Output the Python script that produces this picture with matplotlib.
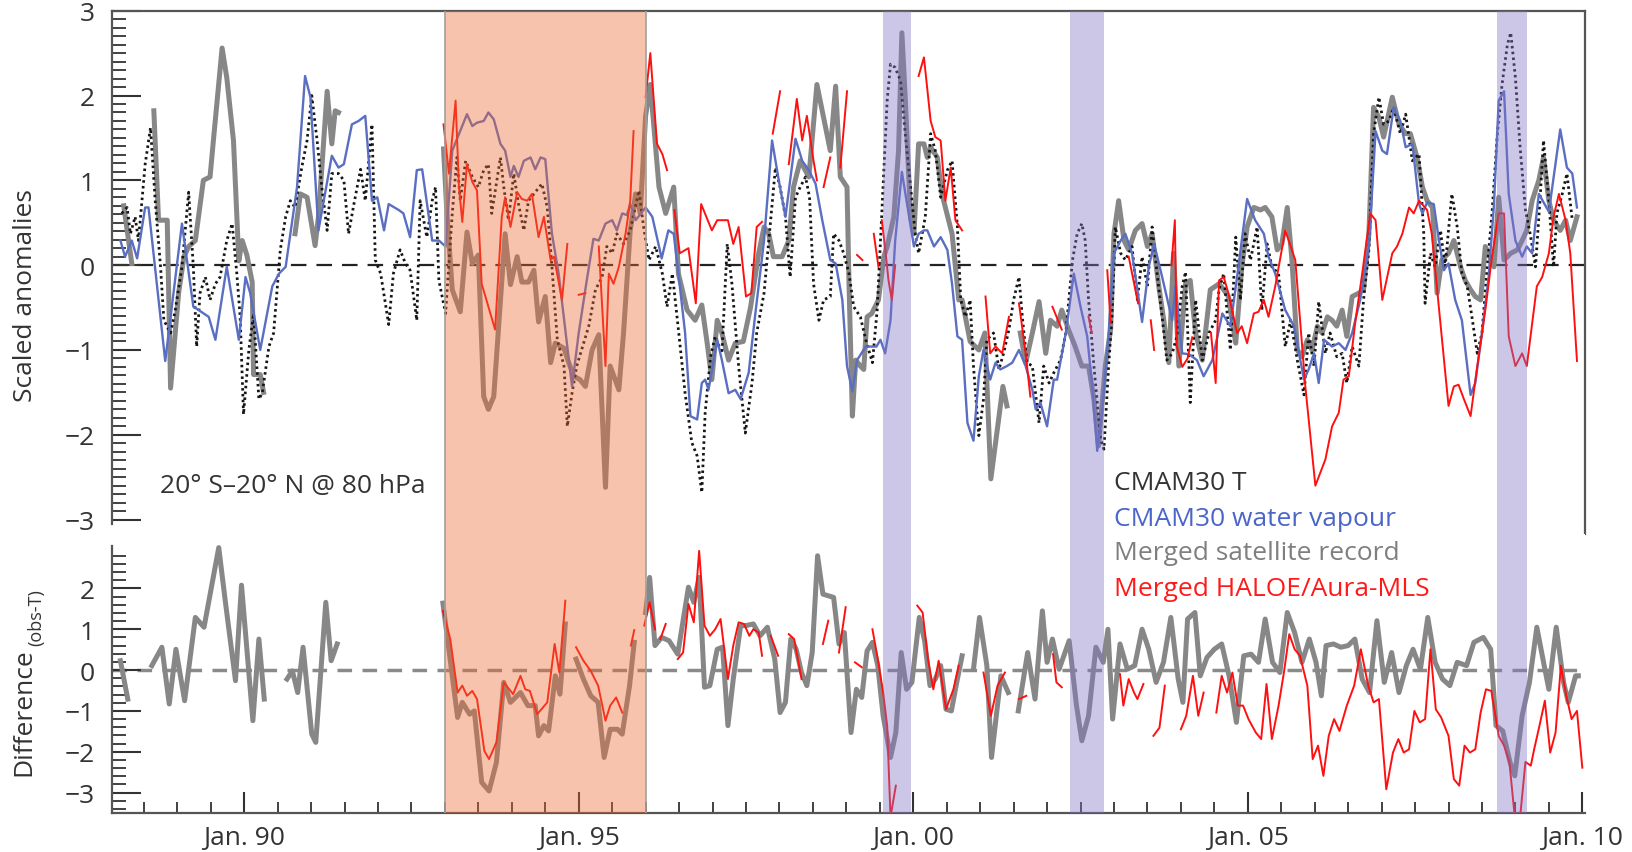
import numpy as np
import matplotlib
matplotlib.use("Agg")
import matplotlib.pyplot as plt
from matplotlib.ticker import FixedLocator

plt.rcParams['font.family'] = ['Open Sans', 'DejaVu Sans']
nan = np.nan

# ---------------- data (year, value) ----------------
cmam_t = [
(1988.17,0.61),(1988.25,0.68),(1988.30,0.37),(1988.37,0.57),(1988.42,0.29),(1988.52,1.19),(1988.60,1.62),
(1988.67,0.76),(1988.75,-0.02),(1988.80,-0.65),(1988.90,-0.80),(1988.97,-0.53),(1989.07,-0.02),(1989.17,0.86),
(1989.24,-0.02),(1989.29,-0.96),(1989.34,-0.33),(1989.42,-0.14),(1989.49,-0.41),(1989.57,-0.22),(1989.64,-0.14),
(1989.74,0.29),(1989.82,0.49),(1989.89,-0.10),(1989.94,-0.61),(1989.99,-1.76),(1990.07,-1.00),(1990.14,-0.57),
(1990.22,-1.58),(1990.27,-1.51),(1990.37,-0.96),(1990.44,-0.80),(1990.54,0.18),(1990.62,0.57),(1990.69,0.76),
(1990.76,0.68),(1990.86,1.15),(1990.94,1.47),(1991.01,2.00),(1991.09,1.47),(1991.16,0.92),(1991.24,0.41),
(1991.31,1.08),(1991.41,1.08),(1991.49,1.00),(1991.56,0.37),(1991.64,0.72),(1991.74,1.13),(1991.81,0.76),
(1991.91,1.66),(1991.96,0.06),(1992.04,-0.10),(1992.16,-0.70),(1992.23,-0.10),(1992.33,0.18),(1992.41,0.02),
(1992.48,-0.06),(1992.58,-0.65),(1992.63,0.76),(1992.73,0.33),(1992.81,0.76),(1992.86,0.92),(1992.91,-0.18),
(1993.01,-0.57),(1993.11,0.61),(1993.18,1.27),(1993.23,0.76),(1993.31,1.23),(1993.41,1.04),(1993.50,0.92),
(1993.58,1.12),(1993.65,1.19),(1993.70,0.61),(1993.83,1.27),(1993.88,0.92),(1993.95,0.53),(1994.03,1.08),
(1994.10,0.72),(1994.18,0.41),(1994.25,0.76),(1994.35,0.86),(1994.45,0.96),(1994.53,0.68),(1994.60,-0.02),
(1994.68,-0.88),(1994.78,-1.19),(1994.83,-1.90),(1994.90,-1.51),(1994.97,-1.19),(1995.15,-0.72),(1995.25,-0.29),
(1995.35,-0.14),(1995.42,0.22),(1995.50,0.14),(1995.57,0.37),(1995.67,0.25),(1995.77,0.41),(1995.90,0.88),
(1995.97,0.45),(1996.05,0.06),(1996.15,0.22),(1996.25,-0.10),(1996.32,-0.49),(1996.40,-0.10),(1996.49,-0.76),
(1996.59,-1.51),(1996.69,-2.09),(1996.77,-2.25),(1996.84,-2.68),(1996.89,-1.74),(1996.97,-1.08),(1997.04,-0.84),
(1997.14,-1.04),(1997.22,0.25),(1997.29,-0.22),(1997.39,-1.19),(1997.49,-1.98),(1997.59,-1.39),(1997.66,-0.80),
(1997.77,-0.33),(1997.86,0.45),(1997.94,1.15),(1998.01,0.92),(1998.09,0.57),(1998.16,-0.14),(1998.24,0.80),
(1998.31,0.92),(1998.39,1.04),(1998.45,0.80),(1998.51,-0.22),(1998.59,-0.65),(1998.66,-0.41),(1998.76,-0.37),
(1998.81,0.37),(1998.89,0.29),(1998.96,0.14),(1999.04,-0.10),(1999.11,-0.49),(1999.21,-0.61),(1999.29,-0.88),
(1999.39,-1.15),(1999.46,-0.53),(1999.53,0.61),(1999.61,1.94),(1999.66,2.37),(1999.73,2.33),(1999.81,2.17),
(1999.88,1.55),(1999.96,0.92),(2000.03,0.37),(2000.08,0.14),(2000.18,0.57),(2000.26,1.55),(2000.33,1.35),
(2000.41,0.80),(2000.51,1.12),(2000.58,1.23),(2000.66,0.45),(2000.71,-0.41),(2000.78,-0.61),(2000.85,-0.41),
(2000.90,-1.19),(2000.98,-2.01),(2001.05,-1.58),(2001.10,-0.88),(2001.20,-0.80),(2001.28,-1.23),(2001.35,-1.04),
(2001.43,-0.76),(2001.50,-0.41),(2001.58,-0.14),(2001.63,-0.61),(2001.70,-1.15),(2001.78,-1.19),(2001.88,-1.86),
(2001.95,-1.19),(2002.03,-1.39),(2002.10,-1.27),(2002.20,-1.12),(2002.28,-0.80),(2002.38,0.06),(2002.45,0.37),
(2002.52,0.49),(2002.57,0.29),(2002.62,-0.41),(2002.70,-1.19),(2002.80,-2.05),(2002.85,-2.17),(2002.92,-1.19),
(2002.97,-0.61),(2003.02,0.45),(2003.10,0.14),(2003.17,0.06),(2003.27,0.22),(2003.35,-0.41),(2003.42,0.10),
(2003.50,-0.25),(2003.57,0.45),(2003.65,-0.14),(2003.72,-0.61),(2003.79,-1.12),(2003.87,-1.04),(2003.94,-0.84),
(2004.02,-0.25),(2004.07,-0.08),(2004.14,-1.62),(2004.22,-0.41),(2004.32,-1.12),(2004.42,-0.80),(2004.52,-0.65),
(2004.57,-0.29),(2004.64,-0.10),(2004.74,-1.00),(2004.82,0.33),(2004.89,-0.41),(2004.96,0.37),(2005.04,0.06),
(2005.14,0.45),(2005.21,-0.53),(2005.29,0.25),(2005.36,-0.02),(2005.46,-0.10),(2005.56,-0.96),(2005.64,-0.65),
(2005.74,-1.12),(2005.84,-1.53),(2005.91,-0.80),(2005.99,-1.19),(2006.06,-0.43),(2006.16,-1.04),(2006.23,-0.80),
(2006.33,-1.08),(2006.41,-1.04),(2006.48,-1.39),(2006.56,-0.96),(2006.66,-1.19),(2006.73,-0.41),(2006.81,0.18),
(2006.88,1.55),(2006.96,1.98),(2007.03,1.66),(2007.11,1.70),(2007.18,1.86),(2007.28,1.55),(2007.36,1.78),
(2007.46,1.23),(2007.56,1.31),(2007.63,0.37),(2007.65,-0.45),(2007.73,0.14),(2007.80,-0.02),(2007.88,0.41),
(2007.95,-0.02),(2008.05,0.84),(2008.13,0.45),(2008.20,-0.10),(2008.28,-0.25),(2008.35,-0.61),(2008.43,-1.04),
(2008.50,-0.80),(2008.58,-0.02),(2008.65,0.61),(2008.73,1.55),(2008.80,2.13),(2008.88,2.60),(2008.93,2.74),
(2009.00,2.21),(2009.07,1.39),(2009.15,0.65),(2009.22,0.37),(2009.30,-0.02),(2009.37,0.80),(2009.42,1.47),
(2009.50,0.76),(2009.57,-0.02),(2009.62,0.61),(2009.70,0.84),(2009.77,1.08),(2009.85,0.53)]

cmam_wv = [
(1988.15,0.29),(1988.22,0.10),(1988.32,0.29),(1988.40,0.08),(1988.52,0.68),(1988.57,0.68),(1988.82,-1.13),
(1989.07,0.49),(1989.24,-0.49),(1989.32,-0.53),(1989.47,-0.61),(1989.57,-0.88),(1989.74,-0.02),(1989.92,-0.88),
(1990.02,-0.14),(1990.09,-0.33),(1990.24,-1.00),(1990.42,-0.25),(1990.52,-0.10),(1990.62,-0.02),(1990.79,0.92),
(1990.91,2.23),(1990.99,1.98),(1991.11,0.41),(1991.31,1.29),(1991.41,1.15),(1991.49,1.19),(1991.61,1.66),
(1991.71,1.70),(1991.81,1.76),(1991.91,0.76),(1991.99,0.80),(1992.09,0.41),(1992.16,0.72),(1992.31,0.65),
(1992.38,0.61),(1992.48,0.33),(1992.58,1.12),(1992.66,1.13),(1992.81,0.29),(1992.91,0.29),(1993.01,0.22),
(1993.11,1.35),(1993.33,1.78),(1993.41,1.64),(1993.48,1.68),(1993.58,1.70),(1993.65,1.80),(1993.73,1.72),
(1993.83,1.43),(1993.90,1.35),(1993.98,1.04),(1994.03,1.17),(1994.10,1.04),(1994.18,1.23),(1994.28,1.27),
(1994.35,1.13),(1994.43,1.27),(1994.50,1.25),(1994.60,0.37),(1994.70,-0.10),(1994.80,-0.76),(1994.90,-1.43),
(1995.00,-0.80),(1995.12,-0.18),(1995.22,0.31),(1995.30,0.29),(1995.40,0.49),(1995.50,0.53),(1995.57,0.41),
(1995.65,0.61),(1995.72,0.59),(1995.77,0.72),(1995.85,0.53),(1996.00,0.68),(1996.10,0.57),(1996.24,0.08),
(1996.34,0.41),(1996.42,0.37),(1996.49,-0.10),(1996.59,-0.80),(1996.67,-1.78),(1996.77,-1.82),(1996.84,-1.39),
(1996.89,-1.35),(1996.94,-1.47),(1997.07,-0.88),(1997.14,-1.12),(1997.24,-1.51),(1997.34,-1.47),(1997.42,-1.58),
(1997.54,-1.27),(1997.64,-0.57),(1997.77,0.29),(1997.89,1.47),(1997.99,1.00),(1998.09,0.57),(1998.24,1.49),
(1998.34,1.23),(1998.44,1.12),(1998.54,0.96),(1998.64,0.53),(1998.76,0.06),(1998.84,0.02),(1998.94,-0.41),
(1999.01,-1.19),(1999.09,-1.49),(1999.16,-1.12),(1999.29,-0.96),(1999.45,-0.96),(1999.51,-0.88),(1999.58,-1.04),
(1999.66,-0.65),(1999.73,0.29),(1999.83,1.10),(1999.93,0.61),(2000.01,0.22),(2000.08,0.37),(2000.16,0.41),
(2000.21,0.41),(2000.31,0.22),(2000.41,0.33),(2000.51,0.18),(2000.58,-0.22),(2000.66,-0.84),(2000.73,-0.88),
(2000.81,-1.86),(2000.90,-2.07),(2000.98,-1.31),(2001.05,-1.00),(2001.15,-1.35),(2001.23,-1.15),(2001.30,-1.23),
(2001.40,-1.19),(2001.48,-1.15),(2001.58,-1.00),(2001.68,-1.19),(2001.78,-1.47),(2001.83,-1.70),(2001.90,-1.62),
(2002.00,-1.90),(2002.10,-1.35),(2002.15,-1.35),(2002.28,-0.80),(2002.40,-0.10),(2002.50,-0.49),(2002.60,-0.84),
(2002.67,-1.39),(2002.75,-2.19),(2002.82,-1.74),(2002.92,-0.80),(2003.00,0.14),(2003.10,0.29),(2003.17,0.37),
(2003.27,0.14),(2003.42,-0.67),(2003.52,-0.02),(2003.60,0.25),(2003.72,-0.14),(2003.80,-0.41),(2003.87,-0.65),
(2003.92,-0.25),(2004.02,-1.04),(2004.12,-1.05),(2004.24,-1.12),(2004.34,-1.31),(2004.47,-1.12),(2004.62,-0.57),
(2004.74,-0.72),(2004.84,-0.14),(2004.99,0.78),(2005.11,0.53),(2005.24,0.37),(2005.31,0.10),(2005.41,-0.10),
(2005.56,-0.53),(2005.69,-0.72),(2005.84,-1.35),(2005.91,-1.23),(2005.99,-1.04),(2006.06,-1.39),(2006.14,-0.88),
(2006.26,-0.96),(2006.36,-0.92),(2006.46,-1.00),(2006.56,-0.80),(2006.68,-0.41),(2006.81,0.22),(2006.91,1.58),
(2007.01,1.35),(2007.08,1.31),(2007.18,1.86),(2007.28,1.70),(2007.36,1.39),(2007.46,1.43),(2007.56,0.72),
(2007.61,0.61),(2007.68,0.74),(2007.78,0.72),(2007.85,0.33),(2007.93,-0.06),(2008.00,0.02),(2008.10,-0.41),
(2008.20,-0.65),(2008.33,-1.53),(2008.40,-1.39),(2008.50,-0.80),(2008.60,-0.14),(2008.68,0.72),(2008.75,1.94),
(2008.83,2.05),(2008.90,0.84),(2009.00,0.29),(2009.10,0.10),(2009.17,0.22),(2009.25,0.14),(2009.35,0.84),
(2009.50,0.63),(2009.67,1.60),(2009.77,1.15),(2009.85,1.08),(2009.92,0.68)]

merged_sat = [
(1988.20,0.70),(1988.32,0.02),(nan,nan),
(1988.65,1.82),(1988.72,0.53),(1988.85,0.53),(1988.90,-1.45),(1989.02,-0.33),(1989.10,0.10),(1989.17,0.22),
(1989.27,0.29),(1989.39,1.00),(1989.49,1.04),(1989.54,1.47),(1989.67,2.56),(1989.74,2.21),(1989.84,1.47),
(1989.92,0.05),(1989.97,0.29),(1990.04,0.12),(1990.12,-0.20),(1990.14,-1.29),(1990.24,-1.29),(1990.29,-1.50),(nan,nan),
(1990.76,0.37),(1990.84,0.84),(1990.94,0.80),(1991.06,0.23),(1991.11,0.57),(1991.24,2.05),(1991.31,1.43),
(1991.36,1.82),(1991.41,1.80),(nan,nan),
(1992.98,1.37),(1993.03,0.61),(1993.11,-0.29),(1993.23,-0.55),(1993.33,0.39),(1993.41,0.02),(1993.50,0.12),
(1993.58,-1.55),(1993.65,-1.70),(1993.73,-1.55),(1993.83,-0.41),(1993.90,0.37),(1993.98,-0.23),(1994.08,0.10),
(1994.15,-0.20),(1994.25,-0.20),(1994.33,-0.06),(1994.40,-0.67),(1994.50,-0.37),(1994.58,-1.15),(1994.65,-0.92),
(1994.78,-0.98),(1994.85,-1.15),(1994.93,-1.31),(1995.02,-1.35),(1995.10,-1.43),(1995.20,-1.00),(1995.30,-0.82),
(1995.40,-2.62),(1995.47,-1.19),(1995.60,-1.47),(1995.67,-0.80),(1995.77,0.41),(1995.85,0.84),(1995.92,0.61),
(1996.00,1.76),(1996.07,2.13),(1996.15,1.39),(1996.20,0.92),(1996.30,0.61),(1996.42,0.92),(1996.49,-0.10),
(1996.62,-0.53),(1996.74,-0.65),(1996.84,-0.47),(1996.92,-0.92),(1996.99,-1.35),(1997.07,-0.65),(1997.14,-0.80),
(1997.24,-1.12),(1997.34,-0.92),(1997.46,-0.90),(1997.57,-0.49),(1997.69,0.14),(1997.77,0.45),(1997.84,0.37),
(1997.91,0.10),(1998.04,0.10),(1998.14,0.29),(1998.21,0.92),(1998.31,1.23),(1998.44,1.04),(1998.56,2.13),
(1998.66,1.74),(1998.76,1.35),(1998.84,2.11),(1998.91,1.04),(1999.01,0.92),(1999.04,-0.22),(1999.09,-1.78),
(1999.14,-1.12),(1999.21,-1.19),(1999.26,-1.23),(1999.31,-0.61),(1999.38,-0.57),(1999.48,-0.41),(1999.56,0.10),
(1999.61,0.22),(1999.71,0.57),(1999.78,1.35),(1999.83,2.74),(1999.88,1.98),(1999.96,0.57),(2000.01,0.37),
(2000.08,1.43),(2000.16,1.43),(2000.21,1.27),(2000.26,1.39),(2000.36,1.27),(2000.43,0.84),(2000.48,0.68),
(2000.58,0.37),(2000.68,-0.41),(2000.73,-0.41),(2000.85,-0.90),(2000.98,-1.00),(2001.07,-0.80),(2001.16,-2.52),
(2001.34,-1.43),(2001.40,-1.66),(nan,nan),
(2001.60,-0.80),(2001.68,-1.15),(2001.78,-0.80),(2001.88,-0.43),(2001.98,-1.04),(2002.05,-0.65),(2002.15,-0.72),
(2002.22,-0.53),(2002.32,-0.76),(2002.42,-0.96),(2002.52,-1.19),(2002.62,-1.19),(2002.70,-1.58),(2002.77,-2.13),
(2002.87,-1.19),(2002.95,-0.76),(2003.00,0.37),(2003.07,0.76),(2003.15,0.29),(2003.22,0.18),(2003.32,0.41),
(2003.42,0.49),(2003.50,0.22),(2003.57,0.37),(2003.67,-0.25),(2003.75,-0.68),(2003.82,-1.15),(2003.89,0.14),
(2003.97,-1.19),(2004.07,-0.22),(2004.14,-0.18),(2004.22,-0.80),(2004.32,-1.12),(2004.44,-0.29),(2004.57,-0.22),
(2004.64,-0.29),(2004.71,-0.37),(2004.82,-0.92),(2004.91,-0.02),(2004.99,0.45),(2005.09,0.68),(2005.19,0.65),
(2005.26,0.68),(2005.36,0.57),(2005.44,0.18),(2005.51,0.25),(2005.59,0.68),(2005.66,0.06),(2005.74,-1.00),
(2005.81,-1.08),(2005.89,-0.88),(2005.96,-1.00),(2006.04,-0.72),(2006.11,-0.80),(2006.19,-0.61),(2006.26,-0.65),
(2006.33,-0.72),(2006.41,-0.53),(2006.48,-0.84),(2006.56,-0.37),(2006.66,-0.33),(2006.73,-0.29),(2006.81,0.37),
(2006.88,1.86),(2006.96,1.74),(2007.03,1.51),(2007.16,1.98),(2007.26,1.66),(2007.36,1.55),(2007.43,1.55),
(2007.53,1.27),(2007.61,0.92),(2007.68,0.76),(2007.76,0.68),(2007.83,-0.33),(2007.90,0.06),(2008.00,0.14),
(2008.08,0.29),(2008.18,-0.02),(2008.25,-0.18),(2008.33,-0.29),(2008.40,-0.37),(2008.48,-0.41),(2008.55,0.22),
(2008.68,-0.02),(2008.75,0.80),(2008.83,0.06),(2008.93,0.14),(2009.03,0.18),(2009.10,0.29),(2009.17,0.41),
(2009.25,0.76),(2009.35,1.00),(2009.42,1.27),(2009.50,0.76),(2009.57,0.53),(2009.67,0.41),(2009.75,0.53),
(2009.82,0.29),(2009.92,0.57)]

haloe_mls = [
(1992.98,1.66),(1993.06,1.08),(1993.16,1.94),(1993.21,0.92),(1993.26,0.51),(1993.33,1.19),(1993.41,0.98),
(1993.48,0.88),(1993.55,-0.22),(1993.65,-0.49),(1993.75,-0.76),(1993.85,0.57),(1993.90,0.80),(1993.98,0.45),
(1994.08,0.86),(1994.15,0.78),(1994.23,0.76),(1994.30,0.84),(1994.40,0.33),(1994.48,0.57),(1994.58,0.06),
(1994.63,0.10),(1994.75,-0.41),(1994.83,0.25),(nan,nan),
(1995.00,-0.35),(1995.10,-0.33),(nan,nan),
(1995.30,0.22),(1995.40,-1.19),(1995.45,-0.10),(1995.52,-0.22),(1995.60,-0.02),(1995.70,0.37),(1995.77,0.76),
(1995.82,1.58),(nan,nan),
(1996.00,1.98),(1996.07,2.50),(1996.17,1.43),(1996.25,1.31),(1996.32,1.12),(nan,nan),
(1996.43,0.65),(1996.51,0.14),(1996.64,0.20),(1996.75,-0.45),(1996.83,0.72),(1996.99,0.41),(1997.07,0.53),
(1997.23,0.53),(1997.31,0.25),(1997.39,0.45),(1997.50,-0.37),(1997.58,-0.33),(1997.66,0.45),(1997.74,0.51),(nan,nan),
(1997.90,1.55),(1998.01,2.05),(nan,nan),
(1998.14,1.19),(1998.26,1.96),(1998.34,1.47),(1998.41,1.76),(1998.51,1.23),(1998.56,1.00),(nan,nan),
(1998.66,0.92),(1998.76,1.27),(nan,nan),
(1998.91,1.15),(1999.01,2.05),(nan,nan),
(1999.16,0.12),(1999.24,0.06),(nan,nan),
(1999.41,0.37),(1999.48,-0.02),(nan,nan),
(1999.53,0.53),(1999.58,0.20),(1999.63,-0.18),(1999.68,-0.41),(1999.73,0.00),(nan,nan),
(2000.08,2.23),(2000.16,2.45),(2000.26,1.70),(2000.33,1.51),(2000.41,1.47),(2000.48,0.76),(2000.56,1.15),
(2000.63,0.53),(2000.73,0.41),(nan,nan),
(2001.08,-0.37),(2001.15,-1.04),(2001.23,-0.96),(2001.33,-1.04),(2001.43,-0.61),(nan,nan),
(2001.58,-0.45),(2001.68,-1.04),(2001.75,-1.55),(nan,nan),
(2002.08,-0.49),(2002.22,-0.76),(nan,nan),
(2002.62,-0.61),(2002.67,-0.80),(nan,nan),
(2002.90,-0.06),(2002.95,-0.68),(nan,nan),
(2003.22,0.10),(2003.36,-0.45),(nan,nan),
(2003.55,-0.65),(2003.60,-1.00),(nan,nan),
(2003.86,0.00),(2003.91,0.53),(2003.94,-0.96),(2004.02,-1.20),(2004.10,-1.10),(2004.17,-0.85),(nan,nan),
(2004.45,-0.80),(2004.52,-1.39),(2004.57,-0.18),(2004.64,-0.14),(2004.71,-0.33),(2004.84,-0.80),(2004.91,-0.72),
(2004.99,-0.92),(2005.09,-0.57),(2005.16,-0.55),(2005.24,-0.41),(2005.31,-0.61),(2005.41,-0.25),(2005.56,0.41),
(2005.71,0.06),(2005.86,-1.43),(2006.01,-2.60),(2006.16,-2.29),(2006.26,-1.90),(2006.36,-1.74),(2006.43,-1.35),
(2006.51,-1.31),(2006.61,-0.65),(2006.71,-0.10),(2006.83,0.61),(2006.91,0.53),(2007.01,-0.41),(2007.16,0.14),
(2007.23,0.22),(2007.31,0.37),(2007.41,0.68),(2007.48,0.61),(2007.56,0.76),(2007.68,0.65),(2007.75,0.37),
(2007.85,-0.45),(2008.00,-1.66),(2008.08,-1.43),(2008.15,-1.41),(2008.23,-1.58),(2008.33,-1.78),(2008.43,-1.19),
(2008.55,-0.53),(2008.65,0.10),(2008.75,0.61),(2008.83,0.61),(2008.90,-0.84),(2009.00,-1.19),(2009.10,-1.04),
(2009.17,-1.19),(2009.32,-0.25),(2009.40,-0.14),(2009.50,0.14),(2009.57,0.57),(2009.65,0.84),(2009.75,0.53),
(2009.82,0.14),(2009.92,-1.13)]

diff_sat = [
(1988.15,0.23),(1988.26,-0.71),(nan,nan),
(1988.62,0.11),(1988.77,0.56),(1988.88,-0.83),(1988.98,0.51),(1989.11,-0.75),(1989.27,1.29),(1989.40,1.05),
(1989.62,3.00),(1989.72,1.66),(1989.87,-0.26),(1989.96,2.08),(1990.13,-1.24),(1990.22,0.76),(1990.30,-0.71),(nan,nan),
(1990.64,-0.22),(1990.72,-0.02),(1990.80,-0.55),(1990.88,0.56),(1991.01,-1.57),(1991.07,-1.77),(1991.22,1.66),
(1991.30,0.23),(1991.39,0.64),(nan,nan),
(1992.97,1.64),(1993.19,-1.16),(1993.26,-0.79),(1993.37,-1.08),(1993.44,-1.00),(1993.55,-2.75),(1993.66,-2.96),
(1993.77,-2.26),(1993.88,-0.30),(1993.98,-0.79),(1994.13,-0.55),(1994.24,-0.87),(1994.35,-0.87),(1994.40,-1.61),
(1994.48,-1.36),(1994.55,-1.49),(1994.65,-0.14),(1994.72,-0.59),(1994.80,1.13),(nan,nan),
(1994.96,0.27),(1995.07,-0.22),(1995.18,-0.63),(1995.29,-0.79),(1995.38,-2.14),(1995.47,-1.45),(1995.58,-1.45),
(1995.65,-1.57),(1995.76,-0.38),(1995.83,0.68),(nan,nan),
(1996.00,1.41),(1996.06,2.27),(1996.14,0.60),(1996.24,0.80),(1996.35,0.72),(1996.48,0.39),(1996.64,2.03),
(1996.72,1.66),(1996.80,2.27),(1996.88,-0.42),(1996.96,-0.38),(1997.07,0.51),(1997.15,0.56),(1997.23,-1.36),
(1997.31,-0.22),(1997.42,1.09),(1997.50,1.09),(1997.61,1.13),(1997.71,0.84),(1997.82,1.05),(1997.93,0.27),
(1998.01,-1.04),(1998.09,-0.79),(1998.17,0.76),(1998.25,0.51),(1998.33,-0.06),(1998.41,-0.38),(1998.49,0.43),
(1998.57,2.80),(1998.65,1.86),(1998.81,1.78),(1998.89,0.64),(1998.97,0.92),(1999.07,-1.53),(1999.15,-0.47),
(1999.23,-0.67),(1999.31,0.47),(1999.39,0.68),(1999.47,0.11),(1999.55,-1.12),(1999.66,-2.14),(1999.74,-1.53),
(1999.82,0.43),(1999.90,-0.47),(1999.98,-0.30),(2000.09,1.29),(2000.17,0.72),(2000.25,-0.38),(2000.33,-0.22),
(2000.41,0.11),(2000.49,-0.96),(2000.57,-1.00),(2000.65,-0.30),(2000.73,0.35),(nan,nan),
(2000.90,0.02),(2000.99,1.29),(2001.10,0.11),(2001.17,-2.14),(2001.31,-0.14),(2001.42,-0.55),(nan,nan),
(2001.57,-1.00),(2001.71,0.43),(2001.82,-0.71),(2001.93,1.45),(2002.00,0.19),(2002.08,0.76),(2002.18,0.02),
(2002.33,0.72),(2002.44,-0.87),(2002.52,-1.73),(2002.62,-1.12),(2002.73,0.56),(2002.84,0.19),(2002.91,1.00),
(2002.98,-1.20),(2003.09,0.64),(2003.20,0.02),(2003.31,0.11),(2003.42,1.00),(2003.52,0.51),(2003.63,-0.30),
(2003.74,0.19),(2003.85,1.29),(2003.96,-0.22),(2004.03,-0.79),(2004.10,1.25),(2004.21,1.41),(2004.29,-0.14),
(2004.39,0.31),(2004.50,0.51),(2004.61,0.64),(2004.72,-0.14),(2004.83,-1.28),(2004.94,0.35),(2005.05,0.39),
(2005.16,0.19),(2005.26,1.25),(2005.37,0.19),(2005.48,-0.06),(2005.59,1.41),(2005.70,0.92),(2005.81,0.19),
(2005.92,0.76),(2006.02,0.19),(2006.10,-0.63),(2006.17,0.60),(2006.28,0.64),(2006.39,0.56),(2006.50,0.60),
(2006.60,0.76),(2006.71,-0.22),(2006.82,-0.55),(2006.93,1.21),(2007.04,-0.30),(2007.15,0.43),(2007.26,-0.55),
(2007.37,0.11),(2007.47,0.51),(2007.58,0.02),(2007.69,1.29),(2007.80,0.19),(2007.91,-0.22),(2008.02,-0.38),
(2008.13,0.19),(2008.27,0.11),(2008.38,0.68),(2008.52,0.80),(2008.63,0.51),(2008.71,-1.36),(2008.81,-1.49),
(2008.92,-2.26),(2008.99,-2.59),(2009.10,-1.12),(2009.21,-0.30),(2009.32,1.05),(2009.43,0.11),(2009.50,-0.47),
(2009.61,1.05),(2009.72,-0.30),(2009.79,-0.79),(2009.90,-0.14),(2009.94,-0.14)]

diff_haloe = [
(1992.97,1.45),(1993.08,0.76),(1993.19,-0.55),(1993.26,-0.38),(1993.33,-0.63),(1993.41,-0.51),(1993.48,-0.71),
(1993.59,-1.98),(1993.66,-2.18),(1993.77,-1.77),(1993.88,-0.30),(1994.02,-0.59),(1994.13,-0.14),(1994.20,-0.47),
(1994.27,-0.51),(1994.38,-1.08),(1994.53,-0.79),(1994.64,0.64),(1994.71,-0.06),(1994.80,1.70),(nan,nan),
(1994.96,0.56),(1995.07,0.23),(1995.18,-0.02),(1995.29,-0.38),(1995.40,-1.24),(1995.47,-0.87),(1995.56,-0.67),
(1995.65,-1.04),(nan,nan),
(1995.78,0.60),(1995.83,0.98),(nan,nan),
(1995.98,1.09),(1996.06,1.66),(1996.14,1.00),(nan,nan),
(1996.22,0.76),(1996.30,1.13),(nan,nan),
(1996.48,0.27),(1996.56,0.43),(1996.64,1.62),(1996.72,1.17),(1996.80,2.92),(1996.88,1.09),(1996.96,0.84),
(1997.04,1.00),(1997.12,1.25),(1997.23,-0.22),(1997.31,0.60),(1997.39,1.17),(1997.47,1.13),(1997.55,0.84),
(1997.61,1.00),(1997.69,0.92),(1997.74,0.35),(nan,nan),
(1997.87,0.84),(1997.98,0.35),(nan,nan),
(1998.14,0.88),(1998.22,0.76),(1998.33,-0.22),(nan,nan),
(1998.65,0.64),(1998.73,1.21),(nan,nan),
(1998.89,0.43),(1998.99,1.54),(nan,nan),
(1999.13,0.19),(1999.23,0.07),(nan,nan),
(1999.39,1.00),(1999.47,0.27),(1999.55,-0.55),(1999.61,-1.36),(1999.66,-3.60),(1999.74,-2.83),(nan,nan),
(2000.06,1.58),(2000.14,1.41),(2000.22,0.27),(2000.30,-0.47),(2000.38,0.23),(2000.49,-0.96),(2000.60,-0.47),
(2000.68,0.11),(nan,nan),
(2001.05,-0.06),(2001.16,-1.12),(2001.26,-0.38),(2001.37,-0.06),(nan,nan),
(2001.58,-0.71),(2001.69,-0.63),(nan,nan),
(2002.09,0.39),(2002.14,-0.30),(2002.22,-0.42),(nan,nan),
(2003.09,-0.10),(2003.14,-0.87),(2003.22,-0.22),(2003.30,-0.55),(2003.35,-0.71),(2003.44,-0.34),(nan,nan),
(2003.59,-1.61),(2003.68,-1.41),(2003.76,-0.38),(nan,nan),
(2004.00,-1.45),(2004.08,-1.12),(2004.18,-0.14),(2004.26,-1.12),(2004.34,-0.55),(nan,nan),
(2004.53,-1.04),(2004.61,-0.14),(2004.69,-0.55),(2004.77,-0.06),(2004.85,-0.87),(2004.93,-0.87),(2005.01,-1.20),
(2005.12,-1.53),(2005.20,-1.69),(2005.28,-0.34),(2005.36,-1.69),(2005.46,-0.87),(2005.54,-0.06),(2005.62,0.88),
(2005.70,0.51),(2005.78,0.35),(2005.89,-0.38),(2005.97,-2.18),(2006.05,-1.85),(2006.13,-2.59),(2006.21,-1.61),
(2006.29,-1.20),(2006.37,-1.49),(2006.48,-0.87),(2006.59,-0.38),(2006.69,0.51),(2006.80,-0.38),(2006.88,-0.79),
(2006.96,-0.71),(2007.07,-2.92),(2007.17,-2.02),(2007.25,-1.69),(2007.33,-2.02),(2007.41,-1.94),(2007.49,-1.00),
(2007.57,-1.28),(2007.65,-1.20),(2007.73,0.51),(2007.81,-0.96),(2007.89,-1.16),(2008.00,-1.61),(2008.08,-2.67),
(2008.16,-2.83),(2008.24,-1.85),(2008.32,-2.02),(2008.40,-1.94),(2008.48,-1.04),(2008.56,-0.47),(2008.64,-0.51),
(2008.75,-1.61),(2008.83,-1.85),(2008.91,-2.25),(2008.99,-3.60),(2009.07,-3.60),(2009.15,-2.25),(2009.23,-2.34),
(2009.28,-1.94),(2009.36,-1.36),(2009.44,-0.75),(2009.52,-2.02),(2009.60,-1.53),(2009.68,0.11),(2009.76,-0.63),
(2009.84,-1.20),(2009.92,-1.00),(2010.00,-2.39)]

el_nino_band = (1993.0, 1996.0)
volcanic_bands = [(1999.55, 1999.97), (2002.35, 2002.85), (2008.72, 2009.17)]
year_ticks = [1990, 1995, 2000, 2005, 2010]
year_labels = ['Jan. 90', 'Jan. 95', 'Jan. 00', 'Jan. 05', 'Jan. 10']
legend_entries = ['CMAM30 T', 'CMAM30 water vapour', 'Merged satellite record', 'Merged HALOE/Aura-MLS']


def xy(series):
    a = np.array(series, dtype=float)
    return a[:, 0], a[:, 1]


# ---------------- figure ----------------
W, H = 1633, 853
fig = plt.figure(figsize=(W / 100, H / 100), dpi=100)
x0, x1 = 111.7, 1585.0
ytop, ysplit, ybot = 11.7, 535.0, 814.0
ax1 = fig.add_axes([x0 / W, 1 - ysplit / H, (x1 - x0) / W, (ysplit - ytop) / H])
ax2 = fig.add_axes([x0 / W, 1 - ybot / H, (x1 - x0) / W, (ybot - ysplit) / H], sharex=ax1)

XLIM = (1988.02, 2010.04)
ax1.set_xlim(*XLIM)
ax1.set_ylim(-3.17, 3.0)
ax2.set_ylim(-3.5, 3.333)

c_blue = '#5a6ec2'
c_red = '#ff1010'
c_grey = '#878787'
c_dark = '#333333'
c_orange = '#ed6b32'
c_purple = '#8275c5'

# top panel
ax1.axhline(0, color='#222222', lw=1.6, ls=(0, (7, 4.5)), zorder=1)
x, y = xy(merged_sat)
ax1.plot(x, y, color=c_grey, lw=3.6, zorder=2)
x, y = xy(cmam_t)
ax1.plot(x, y, color='#151515', lw=2.0, ls=(0, (0.9, 1.2)), zorder=3)
x, y = xy(cmam_wv)
ax1.plot(x, y, color=c_blue, lw=1.7, zorder=3.5)
x, y = xy(haloe_mls)
ax1.plot(x, y, color=c_red, lw=1.4, zorder=4)

# bottom panel
ax2.axhline(0, color='#8a8a8a', lw=2.5, ls=(0, (4.2, 3.0)), zorder=1)
x, y = xy(diff_sat)
ax2.plot(x, y, color=c_grey, lw=3.6, zorder=2)
x, y = xy(diff_haloe)
ax2.plot(x, y, color=c_red, lw=1.4, zorder=4)

for ax in (ax1, ax2):
    ax.axvspan(*el_nino_band, color=c_orange, alpha=0.4, lw=0, zorder=5)
    for b in volcanic_bands:
        ax.axvspan(*b, color=c_purple, alpha=0.4, lw=0, zorder=5)
    for xe in el_nino_band:
        ax.axvline(xe, color='#a0a0a0', lw=1.2, zorder=5.5)

# spines
sp_col = '#555555'
for s in list(ax1.spines.values()) + list(ax2.spines.values()):
    s.set_color(sp_col)
    s.set_linewidth(1.6)
ax1.spines['bottom'].set_visible(False)
ax1.spines['left'].set_bounds(-3.05, 3.0)
ax2.spines['top'].set_visible(False)
ax2.spines['right'].set_visible(False)
ax2.spines['left'].set_bounds(-3.5, 3.05)

# ticks
ax1.yaxis.set_major_locator(FixedLocator([-3, -2, -1, 0, 1, 2, 3]))
ax1.yaxis.set_minor_locator(FixedLocator(np.round(np.arange(-3.0, 3.0, 0.1), 2)))
ax1.set_yticklabels(['\u22123', '\u22122', '\u22121', '0', '1', '2', '3'])
ax1.tick_params(axis='y', which='major', direction='in', length=21, width=1.5, color=c_dark,
                labelsize=19, labelcolor=c_dark, pad=12, left=True, right=False)
ax1.tick_params(axis='y', which='minor', direction='in', length=10, width=1.3, color=c_dark,
                left=True, right=False)
ax1.tick_params(axis='x', which='both', bottom=False, top=False, labelbottom=False)

ax2.yaxis.set_major_locator(FixedLocator([-3, -2, -1, 0, 1, 2]))
ax2.yaxis.set_minor_locator(FixedLocator(np.round(np.arange(-3.4, 2.9, 0.2), 2)))
ax2.set_yticklabels(['\u22123', '\u22122', '\u22121', '0', '1', '2'])
ax2.tick_params(axis='y', which='major', direction='in', length=21, width=1.5, color=c_dark,
                labelsize=19, labelcolor=c_dark, pad=12)
ax2.tick_params(axis='y', which='minor', direction='in', length=10, width=1.3, color=c_dark)

ax2.xaxis.set_major_locator(FixedLocator(year_ticks))
ax2.xaxis.set_minor_locator(FixedLocator(np.arange(1988.5, 2010, 0.5)))
ax2.set_xticklabels(year_labels)
ax2.tick_params(axis='x', which='major', direction='in', length=15, width=1.5, color=c_dark,
                labelsize=19, labelcolor=c_dark, pad=9, top=False)
ax2.tick_params(axis='x', which='minor', direction='in', length=8, width=1.3, color=c_dark, top=False)
ax1.tick_params(axis='x', which='both', labelbottom=False)

# labels
fig.text(26 / W, 1 - 296 / H, 'Scaled anomalies', rotation=90, ha='center', va='center',
         fontsize=19, color=c_dark)
fig.text(24 / W, 1 - 712 / H, 'Difference', rotation=90, ha='center', va='center',
         fontsize=19, color=c_dark)
fig.text(36 / W, 1 - 618 / H, '(obs-T)', rotation=90, ha='center', va='center',
         fontsize=13, color=c_dark)

ax1.text(1988.74, -2.6, '20\u00b0 S\u201320\u00b0 N @ 80 hPa', ha='left', va='center',
         fontsize=19, color=c_dark, zorder=6)

leg_colors = [c_dark, '#4a66c8', '#7f7f7f', '#ff1a1a']
leg_y = [484, 519, 554, 589]
for txt, col, yy in zip(legend_entries, leg_colors, leg_y):
    fig.text(1114 / W, 1 - yy / H, txt, ha='left', va='center', fontsize=19, color=col)

fig.savefig('out.png', dpi=100)
